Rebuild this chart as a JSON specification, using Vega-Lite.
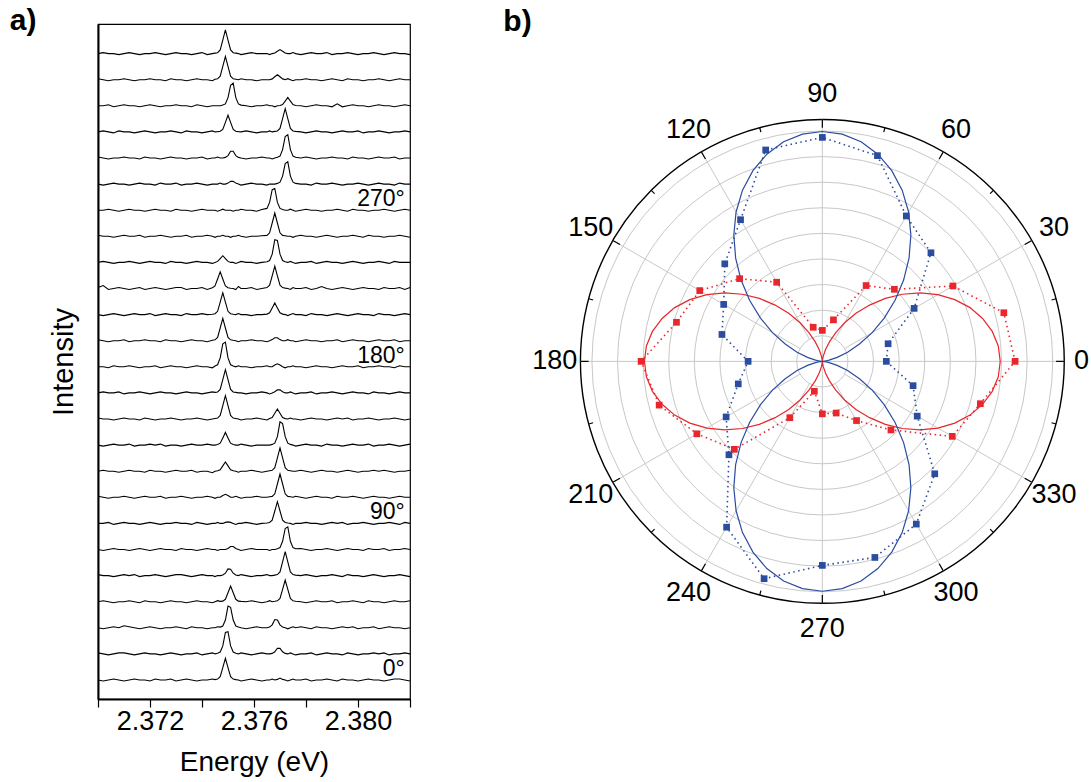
{
  "$schema": "https://vega.github.io/schema/vega-lite/v6.json",
  "background": "white",
  "padding": {"left": 9, "top": 5, "right": 0, "bottom": 0},
  "config": {"font": "Liberation Sans", "view": {"stroke": null}, "concat": {"spacing": 20}},
  "datasets": {
    "grid": [{"i":1,"e":2.3700},{"i":2,"e":2.3702},{"i":3,"e":2.3704},{"i":4,"e":2.3706},{"i":5,"e":2.3708},{"i":6,"e":2.3710},{"i":7,"e":2.3712},{"i":8,"e":2.3714},{"i":9,"e":2.3716},{"i":10,"e":2.3718},{"i":11,"e":2.3720},{"i":12,"e":2.3722},{"i":13,"e":2.3724},{"i":14,"e":2.3726},{"i":15,"e":2.3728},{"i":16,"e":2.3730},{"i":17,"e":2.3732},{"i":18,"e":2.3734},{"i":19,"e":2.3736},{"i":20,"e":2.3738},{"i":21,"e":2.3740},{"i":22,"e":2.3742},{"i":23,"e":2.3744},{"i":24,"e":2.3745},{"i":25,"e":2.3746},{"i":26,"e":2.3747},{"i":27,"e":2.3748},{"i":28,"e":2.3749},{"i":29,"e":2.3750},{"i":30,"e":2.3751},{"i":31,"e":2.3752},{"i":32,"e":2.3753},{"i":33,"e":2.3754},{"i":34,"e":2.3755},{"i":35,"e":2.3757},{"i":36,"e":2.3759},{"i":37,"e":2.3761},{"i":38,"e":2.3763},{"i":39,"e":2.3765},{"i":40,"e":2.3766},{"i":41,"e":2.3767},{"i":42,"e":2.3768},{"i":43,"e":2.3769},{"i":44,"e":2.3770},{"i":45,"e":2.3771},{"i":46,"e":2.3772},{"i":47,"e":2.3773},{"i":48,"e":2.3774},{"i":49,"e":2.3775},{"i":50,"e":2.3776},{"i":51,"e":2.3778},{"i":52,"e":2.3780},{"i":53,"e":2.3782},{"i":54,"e":2.3784},{"i":55,"e":2.3786},{"i":56,"e":2.3788},{"i":57,"e":2.3790},{"i":58,"e":2.3792},{"i":59,"e":2.3794},{"i":60,"e":2.3796},{"i":61,"e":2.3798},{"i":62,"e":2.3800},{"i":63,"e":2.3802},{"i":64,"e":2.3804},{"i":65,"e":2.3806},{"i":66,"e":2.3808},{"i":67,"e":2.3810},{"i":68,"e":2.3812},{"i":69,"e":2.3814},{"i":70,"e":2.3816},{"i":71,"e":2.3818},{"i":72,"e":2.3820}],
    "spectra": [
      {"deg":0,"v":[0,-1,0,1,0,-1,0,1,0,0,-1,1,0,0,1,-1,0,1,0,-1,0,0,1,0.4,0.9,3.3,12.4,21.7,12.4,3.3,0.9,0.4,0,-1,0,1,0,-1,0,0,1,0,0.6,2,0.6,0,-1,0,1,0,0,1,-1,0,0,1,0,-1,1,0,0,-1,0,1,0,0,-1,0,1,1,0,-1]},
      {"deg":15,"v":[1,0,-1,0,1,1,0,-1,0,1,0,0,-1,0,1,0,-1,0,0,1,-1,0,1,0,0.7,1.9,8.0,21.5,22.3,8.0,1.9,0.7,0,1,0,-1,0,1,0,0,0.5,2.1,5.7,5.5,2.1,0.5,0,1,0,-1,0,0,1,-1,0,1,0,0,-1,1,0,-1,0,0,1,0,1,-1,0,0,1,0]},
      {"deg":30,"v":[0,-1,0,1,0,2,1,0,-1,0,1,0,-1,0,0,1,0,-1,1,0,0,-1,0,0,1,0.7,1.8,7.8,21.7,20.5,7.8,1.8,0.7,0,-1,0,1,0,0,0.7,3.0,8.3,7.8,3.0,0.7,0,-1,0,1,0,1,0,-1,1,0,0,-1,0,1,0,1,-1,0,0,1,-1,0,1,0,0,-1,0]},
      {"deg":45,"v":[0,1,0,-1,0,0,1,0,-1,1,0,0,-1,0,1,0,0,-1,0,1,0,0,-1,0,1,0.3,0.6,2.4,8.9,15.7,8.9,2.4,0.6,0.3,0,1,0,-1,0,1,0,0.4,0.9,3.3,12.4,21.7,12.4,3.3,0.9,0.4,0,-1,0,1,0,0,1,-1,0,0,1,0,-1,1,0,0,-1,0,1,0,0,1]},
      {"deg":60,"v":[1,0,0,-1,0,1,0,1,-1,0,0,1,0,-1,0,1,1,0,-1,0,1,0,0,-1,0,0,0.6,2.4,6.7,6.4,2.4,0.6,0,1,0,-1,0,0,1,0,0,0.5,1.0,3.6,13.7,24,13.7,3.6,1.0,0.5,0,1,0,-1,0,0,1,0,-1,1,0,0,-1,0,1,0,-1,0,0,1,0,-1]},
      {"deg":75,"v":[0,-1,0,1,0,0,-1,0,1,0,-1,0,1,0,0,-1,1,0,0,-1,0,1,0,0,-1,0,0,0,1.1,3,3,1.1,0,-1,0,1,0,0,0,-1,0,0,0.7,1.9,8.2,21,22.7,8.2,1.9,0.7,1,0,-1,0,0,1,0,-1,0,1,0,0,-1,1,0,0,1,-1,0,0,1,0]},
      {"deg":90,"v":[0,0,1,-1,0,1,0,0,-1,0,1,0,-1,0,0,1,0,0,-1,1,0,-1,0,0,1,0,0,1,1.5,1,0,-1,0,0,1,0,-1,0,0.4,0.9,3.3,12.4,21.7,12.4,3.3,0.9,0.4,0,-1,0,0,1,0,0,-1,0,1,0,1,-1,0,0,1,0,-1,0,0,1,0,-1,1,0]},
      {"deg":105,"v":[1,0,-1,0,0,1,0,-1,0,1,0,0,1,-1,0,0,1,0,-1,0,0,1,0,-1,0,0,1.7,3,1.7,0,0,1,0,-1,0,0,1,0,0,0.5,0.9,3.5,13.3,23.3,13.3,3.5,0.9,0.5,0,1,0,-1,0,1,0,0,-1,1,0,0,1,0,-1,0,1,0,0,-1,0,1,0,0]},
      {"deg":120,"v":[0,1,0,0,-1,0,1,0,0,-1,1,0,0,-1,0,1,0,0,1,-1,0,0,-1.5,0,0.4,1.4,5.3,9.3,5.3,1.4,0.4,0,-1,0,0,1,0,-1,0,0.5,0.9,3.5,13.3,23.3,13.3,3.5,0.9,0.5,0,0,1,0,-1,0,1,0,0,-1,0,1,0,-1,0,0,1,0,1,0,-1,0,0,1]},
      {"deg":135,"v":[0,-1,0,1,0,0,1,-1,0,0,1,0,1,-1,0,0,-1,0,1,0,0,1,0,0,0.5,1.9,7.2,12.7,7.2,1.9,0.5,0,0,1,0,-1,0,0,0,0,0.7,1.9,8.4,23.3,21.5,8.4,1.9,0.7,0,-1,0,1,0,0,-1,1,0,0,-1,0,1,0,0,1,-1,0,0,1,0,-1,0,1]},
      {"deg":150,"v":[1,0,0,-1,0,1,0,0,-1,1,0,-1,0,0,1,0,-1,0,0,1,0,-1,0,0.5,0.9,3.5,13.3,23.3,13.3,3.5,0.9,0.5,0,-1,0,0,1,0,-1,0.4,1.5,5.7,10,5.7,1.5,0.4,0,1,0,0,-1,0,1,0,0,-1,0,1,0,1,-1,0,0,1,0,-1,0,0,1,0,-1,0]},
      {"deg":165,"v":[0,1,0,0,1,-1,0,0,1,0,-1,0,1,0,0,-1,0,1,0,0,-1,0,1,0.5,0.9,3.5,13.3,23.3,13.3,3.5,0.9,0.5,0,0,-1,0,0,1,0,-1,0,1.1,3,3,1.1,0,0,1,0,-1,0,0,1,-1,0,0,1,0,-1,0,1,0,0,-1,1,0,0,-1,0,1,0,0]},
      {"deg":180,"v":[0,0,-1,1,0,0,1,0,-1,0,0,1,-1,0,1,0,0,-1,0,1,0,0,-1,0.7,2.0,8.9,23,24.7,8.9,2.0,0.7,0,1,0,0,-1,0,0,1,0,0,1.7,3,1.7,0,-1,0,0,1,0,0,-1,0,1,0,0,-1,0,1,0,0,1,-1,0,0,1,0,0,-1,1,0,0]},
      {"deg":195,"v":[1,0,-1,0,0,1,-1,0,0,1,0,0,-1,1,0,0,-1,0,1,0,0,-1,0.4,0.9,3.3,12.7,22.3,12.7,3.3,0.9,0.4,0,-1,0,0,1,0,0,-1,0,1.1,3,3,1.1,0,0,1,0,0,-1,0,1,0,0,-1,0,0,1,-1,0,1,0,0,-1,0,1,0,0,1,-1,0,0]},
      {"deg":210,"v":[0,-1,0,1,0,-1,0,1,0,0,1,-1,0,1,0,0,-1,1,0,0,1,0,0.4,0.9,3.3,12.4,21.7,12.4,3.3,0.9,0.4,0,1,0,0,-1,0,0,0.5,1.8,6.7,11.7,6.7,1.8,0.5,0,-1,0,1,0,0,-1,1,0,0,-1,0,1,0,-1,0,1,0,0,-1,1,0,0,-1,0,1,0]},
      {"deg":225,"v":[1,3,-1,0,1,0,-1,0,1,-1,0,1,0,-1,0,1,1,-1,0,0,1,-1,0.7,2.5,9.5,16.7,9.5,2.5,0.7,0.3,0,-1,2,0,0,1,-1,0,0.9,3.3,12.7,22.3,12.7,3.3,0.9,0.4,0,-1,1,0,0,1,-1,0,2,0,-1,0,1,0,-1,0,1,0,0,-1,1,0,0,1,-1,1]},
      {"deg":240,"v":[0,1,0,-1,0,0,1,0,-1,0,1,0,0,-1,1,0,0,-1,0,1,0,0,-1,0,1.0,3.8,6.7,3.8,1.0,0,0,-1,0,1,0,0,-1,0,0.7,1.9,8.2,22.7,22.0,8.2,1.9,0.7,0,1,0,-1,0,0,1,-1,0,1,0,0,-1,0,1,0,-1,0,0,1,0,-1,1,0,0,0]},
      {"deg":255,"v":[1,0,0,-1,0,1,0,0,1,-1,0,0,1,0,-1,0,0,1,-1,0,0,1,0,-1,0,0,1,0,0,-1,0,0,1,0,-1,0,0,0.5,0.9,3.5,13.3,23.3,13.3,3.5,0.9,0.5,0,0,-1,0,1,0,0,-1,0,1,0,-1,0,0,1,0,-1,1,0,0,-1,0,0,1,0,-1]},
      {"deg":270,"v":[0,0,1,0,-1,0,1,0,0,-1,0,1,0,0,-1,1,0,0,-1,0,1,0,0,0,-1,0,1,0,0,0,-1,0,0,1,0,0,-1,0.7,1.8,7.8,20.5,21.7,7.8,1.8,0.7,0,0,1,0,-1,0,1,0,0,-1,0,0,1,0,-1,1,0,0,-1,0,0,1,0,-1,0,1,0]},
      {"deg":285,"v":[0,-1,0,1,0,0,-1,0,1,0,0,-1,1,0,0,1,-1,0,0,1,0,-1,0,0,0,1,0,0,1,2.7,2.7,1,0,-1,0,1,0,0,-1,0,0,0,0.7,1.9,8.0,20.5,22.3,8.0,1.9,0.7,0,0,-1,1,0,0,1,0,-1,0,0,1,0,-1,0,1,0,0,-1,1,0,0]},
      {"deg":300,"v":[1,0,-1,0,0,1,0,0,-1,1,0,0,-1,0,1,0,0,-1,0,0,1,-1,0,0,1,0,0,0.6,2.4,6.7,6.7,2.4,0.6,0,-1,0,0,1,0,0,-1,0,0.7,1.9,8.4,21.5,23.3,8.4,1.9,0.7,0,1,0,-1,0,0,1,0,0,-1,1,0,0,-1,0,1,0,0,1,-1,0,0]},
      {"deg":315,"v":[0,1,0,-1,1,0,0,-1,0,1,0,-1,0,0,1,0,-1,1,0,0,-1,0,1,0,0.3,0.7,2.5,9.5,16.7,9.5,2.5,0.7,0.3,0,1,0,-1,0,0,1,0,0.5,0.9,3.5,13.3,23.3,13.3,3.5,0.9,0.5,0,-1,0,1,0,0,-1,0,1,0,0,1,-1,0,0,1,0,-1,0,0,1,0]},
      {"deg":330,"v":[0,0,1,-1,0,1,0,0,-1,0,1,0,-1,0,0,1,0,0,-1,1,0,-1,0,0,0,0,0.7,1.9,8.2,20.5,22.7,8.2,1.9,0.7,0,-1,0,0,1,0,0,-1,0,0.3,1.2,4.7,8.3,4.7,1.2,0.3,0,-1,0,1,0,0,-1,2,-1,0,1,0,0,-1,0,1,0,0,-1,0,1,0]},
      {"deg":345,"v":[1,0,-1,0,0,1,0,-1,0,0,1,0,0,-1,1,0,0,-1,0,1,0,0,-1,0.5,0.9,3.5,13.3,23.3,13.3,3.5,0.9,0.5,0,1,0,0,-1,0,0,0,0.8,2.9,5,2.9,0.8,0,1,0,-1,0,0,1,0,0,-1,0,1,0,-1,1,0,0,-1,0,0,1,0,-1,0,1,0,0]},
      {"deg":360,"v":[0,1,0,0,-1,0,1,0,-1,0,0,1,0,-1,0,1,0,0,-1,0,1,-1,0,0.5,0.9,3.6,13.5,23.7,13.5,3.6,0.9,0.5,0,-1,0,1,0,0,0,-1,0,0.6,2.3,4,2.3,0.6,0,0,1,0,-1,0,1,0,0,1,-1,0,0,1,0,-1,0,0,1,0,-1,0,1,0,0,-1]}
    ],
    "pol": [
      {"a":0,"red":7.53,"blue":2.50},{"a":15,"red":7.34,"blue":2.66},{"a":30,"red":5.89,"blue":4.14},{"a":45,"red":3.98,"blue":6.00},
      {"a":60,"red":3.42,"blue":6.56},{"a":75,"red":1.68,"blue":8.32},{"a":90,"red":1.21,"blue":8.75},{"a":105,"red":1.38,"blue":8.55},
      {"a":120,"red":3.57,"blue":6.39},{"a":135,"red":4.57,"blue":5.39},{"a":150,"red":5.53,"blue":4.45},{"a":165,"red":5.90,"blue":4.06},
      {"a":180,"red":7.08,"blue":2.90},{"a":195,"red":6.60,"blue":3.40},{"a":210,"red":5.66,"blue":4.34},{"a":225,"red":4.86,"blue":5.16},
      {"a":240,"red":2.54,"blue":7.48},{"a":255,"red":1.21,"blue":8.79},{"a":270,"red":2.05,"blue":7.97},{"a":285,"red":2.09,"blue":7.93},
      {"a":300,"red":2.67,"blue":7.34},{"a":315,"red":3.79,"blue":6.21},{"a":330,"red":5.86,"blue":4.28},{"a":345,"red":6.39,"blue":3.67}
    ],
    "fit": [
      {"a":0,"red":6.95,"blue":0},{"a":5,"red":6.90,"blue":0.07},{"a":10,"red":6.74,"blue":0.27},{"a":15,"red":6.48,"blue":0.60},{"a":20,"red":6.14,"blue":1.05},{"a":25,"red":5.71,"blue":1.60},{"a":30,"red":5.21,"blue":2.25},{"a":35,"red":4.66,"blue":2.95},{"a":40,"red":4.08,"blue":3.71},{"a":45,"red":3.48,"blue":4.49},{"a":50,"red":2.87,"blue":5.27},{"a":55,"red":2.29,"blue":6.03},{"a":60,"red":1.74,"blue":6.74},{"a":65,"red":1.24,"blue":7.38},{"a":70,"red":0.81,"blue":7.93},{"a":75,"red":0.47,"blue":8.38},{"a":80,"red":0.21,"blue":8.71},{"a":85,"red":0.05,"blue":8.91},
      {"a":90,"red":0,"blue":8.98},{"a":95,"red":0.05,"blue":8.91},{"a":100,"red":0.21,"blue":8.71},{"a":105,"red":0.47,"blue":8.38},{"a":110,"red":0.81,"blue":7.93},{"a":115,"red":1.24,"blue":7.38},{"a":120,"red":1.74,"blue":6.74},{"a":125,"red":2.29,"blue":6.03},{"a":130,"red":2.87,"blue":5.27},{"a":135,"red":3.48,"blue":4.49},{"a":140,"red":4.08,"blue":3.71},{"a":145,"red":4.66,"blue":2.95},{"a":150,"red":5.21,"blue":2.25},{"a":155,"red":5.71,"blue":1.60},{"a":160,"red":6.14,"blue":1.05},{"a":165,"red":6.48,"blue":0.60},{"a":170,"red":6.74,"blue":0.27},{"a":175,"red":6.90,"blue":0.07},
      {"a":180,"red":6.95,"blue":0},{"a":185,"red":6.90,"blue":0.07},{"a":190,"red":6.74,"blue":0.27},{"a":195,"red":6.48,"blue":0.60},{"a":200,"red":6.14,"blue":1.05},{"a":205,"red":5.71,"blue":1.60},{"a":210,"red":5.21,"blue":2.25},{"a":215,"red":4.66,"blue":2.95},{"a":220,"red":4.08,"blue":3.71},{"a":225,"red":3.48,"blue":4.49},{"a":230,"red":2.87,"blue":5.27},{"a":235,"red":2.29,"blue":6.03},{"a":240,"red":1.74,"blue":6.74},{"a":245,"red":1.24,"blue":7.38},{"a":250,"red":0.81,"blue":7.93},{"a":255,"red":0.47,"blue":8.38},{"a":260,"red":0.21,"blue":8.71},{"a":265,"red":0.05,"blue":8.91},
      {"a":270,"red":0,"blue":8.98},{"a":275,"red":0.05,"blue":8.91},{"a":280,"red":0.21,"blue":8.71},{"a":285,"red":0.47,"blue":8.38},{"a":290,"red":0.81,"blue":7.93},{"a":295,"red":1.24,"blue":7.38},{"a":300,"red":1.74,"blue":6.74},{"a":305,"red":2.29,"blue":6.03},{"a":310,"red":2.87,"blue":5.27},{"a":315,"red":3.48,"blue":4.49},{"a":320,"red":4.08,"blue":3.71},{"a":325,"red":4.66,"blue":2.95},{"a":330,"red":5.21,"blue":2.25},{"a":335,"red":5.71,"blue":1.60},{"a":340,"red":6.14,"blue":1.05},{"a":345,"red":6.48,"blue":0.60},{"a":350,"red":6.74,"blue":0.27},{"a":355,"red":6.90,"blue":0.07}
    ]
  },
  "hconcat": [
    {
      "width": 312,
      "height": 675,
      "view": {"stroke": "black", "strokeWidth": 1.2},
      "layer": [
        {
          "data": {"name": "spectra"},
          "transform": [
            {"flatten": ["v"]},
            {"window": [{"op": "row_number", "as": "i"}], "groupby": ["deg"]},
            {"lookup": "i", "from": {"data": {"name": "grid"}, "key": "i", "fields": ["e"]}},
            {"calculate": "datum.v + datum.deg * 1.74", "as": "y"}
          ],
          "mark": {"type": "line", "color": "black", "strokeWidth": 1.1},
          "encoding": {
            "x": {"field": "e", "type": "quantitative", "scale": {"domain": [2.370, 2.382], "nice": false, "zero": false},
              "axis": {"values": [2.370, 2.372, 2.374, 2.376, 2.378, 2.380, 2.382],
                "labelExpr": "(round(datum.value*1000) % 4 == 0) ? format(datum.value, '.3f') : ''",
                "title": "Energy (eV)", "titleFontSize": 28, "titleFontWeight": "normal", "titleColor": "black", "titlePadding": 14,
                "labelFontSize": 27, "labelColor": "black", "labelPadding": 1, "labelFlush": false, "labelOverlap": false,
                "tickSize": 8, "tickColor": "black", "tickWidth": 1.2, "domainColor": "black", "domainWidth": 2, "grid": false}},
            "y": {"field": "y", "type": "quantitative", "scale": {"domain": [-19, 656], "nice": false, "zero": false},
              "axis": {"title": "Intensity", "titleFontSize": 29, "titleFontWeight": "normal", "titleColor": "black", "titlePadding": 20,
                "labels": false, "ticks": false, "grid": false, "domainColor": "black", "domainWidth": 2}},
            "detail": {"field": "deg", "type": "nominal"},
            "order": {"field": "e", "type": "quantitative"}
          }
        },
        {
          "data": {"values": [{"deg": 0, "t": "0°"}, {"deg": 90, "t": "90°"}, {"deg": 180, "t": "180°"}, {"deg": 270, "t": "270°"}]},
          "transform": [{"calculate": "datum.deg * 1.74 + 4", "as": "y"}, {"calculate": "2.3818", "as": "x"}],
          "mark": {"type": "text", "align": "right", "baseline": "alphabetic", "fontSize": 23, "color": "black"},
          "encoding": {
            "x": {"field": "x", "type": "quantitative", "scale": {"domain": [2.370, 2.382], "nice": false, "zero": false}},
            "y": {"field": "y", "type": "quantitative", "scale": {"domain": [-19, 656], "nice": false, "zero": false}},
            "text": {"field": "t", "type": "nominal"}
          }
        },
        {
          "data": {"values": [{"t": "a)", "x": 2.36712, "y": 659}]},
          "mark": {"type": "text", "align": "center", "baseline": "middle", "fontSize": 30, "fontWeight": "bold", "color": "black"},
          "encoding": {
            "x": {"field": "x", "type": "quantitative", "scale": {"domain": [2.370, 2.382], "nice": false, "zero": false}},
            "y": {"field": "y", "type": "quantitative", "scale": {"domain": [-19, 656], "nice": false, "zero": false}},
            "text": {"field": "t", "type": "nominal"}
          }
        }
      ]
    },
    {
      "width": 653,
      "height": 675,
      "view": {"stroke": null},
      "layer": [
        {
          "data": {"values": [{"r":1},{"r":2},{"r":3},{"r":4},{"r":5},{"r":6},{"r":7},{"r":8},{"r":9},{"r":9.45}]},
          "transform": [{"calculate": "0", "as": "cx"}, {"calculate": "0", "as": "cy"}, {"calculate": "datum.r > 9.2 ? 'outer' : 'grid'", "as": "kind"}],
          "mark": {"type": "point", "shape": "circle", "filled": false, "opacity": 1},
          "encoding": {
            "x": {"field": "cx", "type": "quantitative", "scale": {"domain": [-15.21, 10.3], "nice": false, "zero": false}, "axis": null},
            "y": {"field": "cy", "type": "quantitative", "scale": {"domain": [-13.19, 13.18], "nice": false, "zero": false}, "axis": null},
            "size": {"field": "r", "type": "quantitative", "scale": {"type": "pow", "exponent": 2, "domain": [0, 10], "range": [0, 262144], "zero": true}, "legend": null},
            "stroke": {"field": "kind", "type": "nominal", "scale": {"domain": ["grid", "outer"], "range": ["#c8c8c8", "#000000"]}, "legend": null},
            "strokeWidth": {"field": "kind", "type": "nominal", "scale": {"domain": ["grid", "outer"], "range": [1, 1.4]}, "legend": null}
          }
        },
        {
          "data": {"values": [{"a":0,"r0":0},{"a":30,"r0":1},{"a":60,"r0":1},{"a":90,"r0":0},{"a":120,"r0":1},{"a":150,"r0":1},{"a":180,"r0":0},{"a":210,"r0":1},{"a":240,"r0":1},{"a":270,"r0":0},{"a":300,"r0":1},{"a":330,"r0":1}]},
          "transform": [
            {"calculate": "datum.r0 * cos(datum.a * PI / 180)", "as": "x1"},
            {"calculate": "datum.r0 * sin(datum.a * PI / 180)", "as": "y1"},
            {"calculate": "9.45 * cos(datum.a * PI / 180)", "as": "x2"},
            {"calculate": "9.45 * sin(datum.a * PI / 180)", "as": "y2"}
          ],
          "mark": {"type": "rule", "color": "#c8c8c8", "strokeWidth": 1},
          "encoding": {
            "x": {"field": "x1", "type": "quantitative", "scale": {"domain": [-15.21, 10.3], "nice": false, "zero": false}, "axis": null},
            "y": {"field": "y1", "type": "quantitative", "scale": {"domain": [-13.19, 13.18], "nice": false, "zero": false}, "axis": null},
            "x2": {"field": "x2"},
            "y2": {"field": "y2"}
          }
        },
        {
          "data": {"values": [{"a":0,"len":0.32},{"a":15,"len":0.18},{"a":30,"len":0.32},{"a":45,"len":0.18},{"a":60,"len":0.32},{"a":75,"len":0.18},{"a":90,"len":0.32},{"a":105,"len":0.18},{"a":120,"len":0.32},{"a":135,"len":0.18},{"a":150,"len":0.32},{"a":165,"len":0.18},{"a":180,"len":0.32},{"a":195,"len":0.18},{"a":210,"len":0.32},{"a":225,"len":0.18},{"a":240,"len":0.32},{"a":255,"len":0.18},{"a":270,"len":0.32},{"a":285,"len":0.18},{"a":300,"len":0.32},{"a":315,"len":0.18},{"a":330,"len":0.32},{"a":345,"len":0.18}]},
          "transform": [
            {"calculate": "(9.45 - datum.len) * cos(datum.a * PI / 180)", "as": "x1"},
            {"calculate": "(9.45 - datum.len) * sin(datum.a * PI / 180)", "as": "y1"},
            {"calculate": "9.45 * cos(datum.a * PI / 180)", "as": "x2"},
            {"calculate": "9.45 * sin(datum.a * PI / 180)", "as": "y2"}
          ],
          "mark": {"type": "rule", "color": "black", "strokeWidth": 1.2},
          "encoding": {
            "x": {"field": "x1", "type": "quantitative", "scale": {"domain": [-15.21, 10.3], "nice": false, "zero": false}, "axis": null},
            "y": {"field": "y1", "type": "quantitative", "scale": {"domain": [-13.19, 13.18], "nice": false, "zero": false}, "axis": null},
            "x2": {"field": "x2"},
            "y2": {"field": "y2"}
          }
        },
        {
          "data": {"name": "fit"},
          "transform": [
            {"fold": ["red", "blue"], "as": ["s", "r"]},
            {"calculate": "datum.r * cos(datum.a * PI / 180)", "as": "px"},
            {"calculate": "datum.r * sin(datum.a * PI / 180)", "as": "py"}
          ],
          "mark": {"type": "line", "interpolate": "linear-closed", "strokeWidth": 1.2},
          "encoding": {
            "x": {"field": "px", "type": "quantitative", "scale": {"domain": [-15.21, 10.3], "nice": false, "zero": false}, "axis": null},
            "y": {"field": "py", "type": "quantitative", "scale": {"domain": [-13.19, 13.18], "nice": false, "zero": false}, "axis": null},
            "color": {"field": "s", "type": "nominal", "scale": {"domain": ["red", "blue"], "range": ["#e8262b", "#2b4c9f"]}, "legend": null},
            "order": {"field": "a", "type": "quantitative"}
          }
        },
        {
          "data": {"name": "pol"},
          "transform": [
            {"fold": ["red", "blue"], "as": ["s", "r"]},
            {"calculate": "datum.r * cos(datum.a * PI / 180)", "as": "px"},
            {"calculate": "datum.r * sin(datum.a * PI / 180)", "as": "py"}
          ],
          "mark": {"type": "line", "interpolate": "linear-closed", "strokeWidth": 1.6, "strokeDash": [1.5, 3.5]},
          "encoding": {
            "x": {"field": "px", "type": "quantitative", "scale": {"domain": [-15.21, 10.3], "nice": false, "zero": false}, "axis": null},
            "y": {"field": "py", "type": "quantitative", "scale": {"domain": [-13.19, 13.18], "nice": false, "zero": false}, "axis": null},
            "color": {"field": "s", "type": "nominal", "scale": {"domain": ["red", "blue"], "range": ["#e8262b", "#2b4c9f"]}, "legend": null},
            "order": {"field": "a", "type": "quantitative"}
          }
        },
        {
          "data": {"name": "pol"},
          "transform": [
            {"fold": ["red", "blue"], "as": ["s", "r"]},
            {"calculate": "datum.r * cos(datum.a * PI / 180)", "as": "px"},
            {"calculate": "datum.r * sin(datum.a * PI / 180)", "as": "py"}
          ],
          "mark": {"type": "point", "shape": "square", "filled": true, "size": 45, "opacity": 1},
          "encoding": {
            "x": {"field": "px", "type": "quantitative", "scale": {"domain": [-15.21, 10.3], "nice": false, "zero": false}, "axis": null},
            "y": {"field": "py", "type": "quantitative", "scale": {"domain": [-13.19, 13.18], "nice": false, "zero": false}, "axis": null},
            "color": {"field": "s", "type": "nominal", "scale": {"domain": ["red", "blue"], "range": ["#e8262b", "#2b4c9f"]}, "legend": null}
          }
        },
        {
          "data": {"values": [{"a":0,"t":"0"},{"a":30,"t":"30"},{"a":60,"t":"60"},{"a":90,"t":"90"},{"a":120,"t":"120"},{"a":150,"t":"150"},{"a":180,"t":"180"},{"a":210,"t":"210"},{"a":240,"t":"240"},{"a":270,"t":"270"},{"a":300,"t":"300"},{"a":330,"t":"330"}]},
          "transform": [
            {"calculate": "(datum.a == 0 ? 10.12 : 10.45) * cos(datum.a * PI / 180)", "as": "lx"},
            {"calculate": "(datum.a == 0 ? 10.12 : 10.45) * sin(datum.a * PI / 180)", "as": "ly"}
          ],
          "mark": {"type": "text", "align": "center", "baseline": "middle", "fontSize": 27, "color": "black"},
          "encoding": {
            "x": {"field": "lx", "type": "quantitative", "scale": {"domain": [-15.21, 10.3], "nice": false, "zero": false}, "axis": null},
            "y": {"field": "ly", "type": "quantitative", "scale": {"domain": [-13.19, 13.18], "nice": false, "zero": false}, "axis": null},
            "text": {"field": "t", "type": "nominal"}
          }
        },
        {
          "data": {"values": [{"t": "b)", "x": -11.91, "y": 13.26}]},
          "mark": {"type": "text", "align": "center", "baseline": "middle", "fontSize": 30, "fontWeight": "bold", "color": "black"},
          "encoding": {
            "x": {"field": "x", "type": "quantitative", "scale": {"domain": [-15.21, 10.3], "nice": false, "zero": false}, "axis": null},
            "y": {"field": "y", "type": "quantitative", "scale": {"domain": [-13.19, 13.18], "nice": false, "zero": false}, "axis": null},
            "text": {"field": "t", "type": "nominal"}
          }
        }
      ]
    }
  ]
}
